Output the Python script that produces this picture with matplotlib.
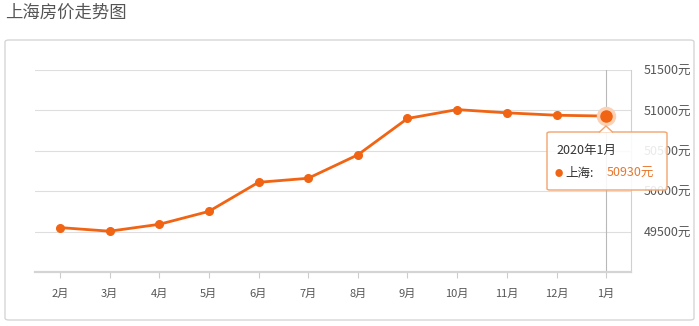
import matplotlib
matplotlib.use("Agg")
import matplotlib.pyplot as plt
from matplotlib.patches import FancyBboxPatch, Polygon

plt.rcParams['font.family'] = ['Noto Sans CJK SC', 'DejaVu Sans']

months = ["2月", "3月", "4月", "5月", "6月", "7月", "8月", "9月", "10月", "11月", "12月", "1月"]
prices = [49550, 49505, 49590, 49750, 50110, 50160, 50450, 50900, 51010, 50970, 50940, 50930]
yticks = [49500, 50000, 50500, 51000, 51500]
city = "上海"
tip_label = "2020年1月"

W, H = 699, 326
line_c = "#f06414"

fig = plt.figure(figsize=(W / 100, H / 100), dpi=100)

def px(x, y):
    return x / W, 1 - y / H

# outer panel
x0, y0 = px(5, 320)
x1, y1 = px(694, 40)
fig.patches.append(FancyBboxPatch((x0, y0), x1 - x0, y1 - y0,
                                  boxstyle="round,pad=0,rounding_size=0.006",
                                  transform=fig.transFigure, fc="white",
                                  ec="#d6d6d6", lw=1, zorder=-5))
fig.text(*px(5, 13), "上海房价走势图", fontsize=12.5, color="#555555",
         va="center", ha="left")

l, b = px(35, 272)
r, t = px(631, 70)
ax = fig.add_axes([l, b, r - l, t - b])
ax.set_facecolor("none")
xs = list(range(len(months)))
ax.set_xlim(-0.5, len(months) - 0.5)
ax.set_ylim(49000, 51500)

for v in yticks:
    ax.axhline(v, color="#dedede", lw=0.8, zorder=1)
ax.axvline(xs[-1], color="#b8b8b8", lw=0.8, zorder=1)

for s in ["top", "left"]:
    ax.spines[s].set_visible(False)
ax.spines["right"].set_color("#d0d0d0")
ax.spines["right"].set_linewidth(0.8)
ax.spines["bottom"].set_color("#d4d4d4")
ax.spines["bottom"].set_linewidth(1.6)

ax.set_xticks(xs)
ax.set_xticklabels(months, fontsize=8, color="#555555")
ax.tick_params(axis="x", length=4, color="#cccccc", pad=8)
ax.yaxis.tick_right()
ax.set_yticks(yticks)
ax.set_yticklabels([f"{v}元" for v in yticks], fontsize=9, color="#555555")
ax.tick_params(axis="y", length=0, pad=9)

ax.plot(xs, prices, color=line_c, lw=2, zorder=3, solid_capstyle="round")
ax.plot(xs[:-1], prices[:-1], "o", color=line_c, ms=5.5, zorder=4)
ax.plot(xs[-1], prices[-1], "o", color="#fbd2b6", ms=13, zorder=4)
ax.plot(xs[-1], prices[-1], "o", color=line_c, ms=8, zorder=5)

# tooltip
bx0, by0 = px(547, 190)
bx1, by1 = px(667, 132)
fig.patches.append(FancyBboxPatch((bx0, by0), bx1 - bx0, by1 - by0,
                                  boxstyle="round,pad=0,rounding_size=0.004",
                                  transform=fig.transFigure, fc=(1, 1, 1, 0.88),
                                  ec="#f2a46e", lw=1, zorder=10))
tri = Polygon([px(599, 132.5), px(606, 126), px(613, 132.5)], closed=False,
              transform=fig.transFigure, fc="white", ec="#f2a46e", lw=1, zorder=11)
fig.patches.append(tri)
fig.text(*px(556, 150), tip_label, fontsize=9, color="#333333",
         va="center", ha="left", zorder=12)
fig.text(*px(559, 173), "●", fontsize=6, color=line_c, va="center", ha="center", zorder=12)
fig.text(*px(565, 173), f"{city}:", fontsize=9, color="#333333",
         va="center", ha="left", zorder=12)
fig.text(*px(607, 173), f"{prices[-1]}元", fontsize=9, color="#e8762c",
         va="center", ha="left", zorder=12)

fig.savefig("out.png", dpi=100)
